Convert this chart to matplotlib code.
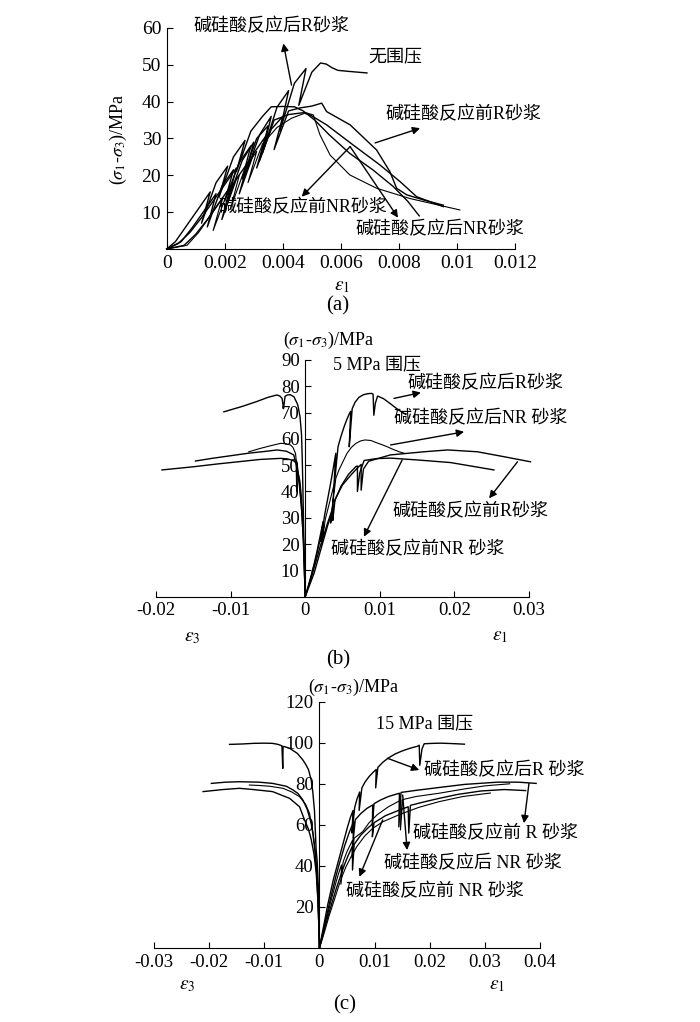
import matplotlib
matplotlib.use("Agg")
import matplotlib.pyplot as plt

plt.rcParams['font.family'] = ['Liberation Serif', 'Noto Sans CJK SC']
plt.rcParams['mathtext.fontset'] = 'stix'
plt.rcParams['axes.unicode_minus'] = False

W, H = 700, 1022
FONTS = ['Liberation Serif', 'Noto Sans CJK SC']

# ---------------- (a) unconfined ----------------
a_r_after_x = [0, 0.0004, 0.0008, 0.0012, 0.0016, 0.0020, 0.0024, 0.0021, 0.0026, 0.0030, 0.0027, 0.0032, 0.0036,
               0.0033, 0.0038, 0.0042, 0.0039, 0.0044, 0.0048, 0.00455, 0.0050, 0.0053, 0.0055, 0.0057, 0.0059,
               0.0063, 0.0069]
a_r_after_y = [0, 1.5, 4.5, 8.5, 13, 17.5, 22, 13, 24, 29, 20, 31, 36, 26, 38.5, 43, 32, 45, 49, 39, 48, 50.5, 50.2,
               49.2, 48.5, 48.2, 47.8]

a_r_before_x = [0, 0.0006, 0.0010, 0.0014, 0.0018, 0.0022, 0.0019, 0.0024, 0.0028, 0.0025, 0.0030, 0.0034, 0.0031,
                0.0036, 0.0040, 0.0037, 0.0042, 0.00459, 0.0050, 0.00534, 0.00551, 0.00632, 0.00723, 0.00769,
                0.00792, 0.00827, 0.0089, 0.00953]
a_r_before_y = [0, 1, 4, 8, 12.5, 17, 8, 19, 23.5, 15, 26, 30.5, 22, 32.5, 36, 27, 37.5, 38.3, 38.8, 39.6, 37.3,
                33.7, 26.9, 21.0, 16.5, 14.7, 13.2, 11.9]

a_nr_before_x = [0, 0.0005, 0.0009, 0.0013, 0.0017, 0.0014, 0.0019, 0.0023, 0.0020, 0.0025, 0.0029, 0.0026, 0.0031,
                 0.0035, 0.0032, 0.0037, 0.0042, 0.0047, 0.00494, 0.00551, 0.00643, 0.00735, 0.00804, 0.00861,
                 0.00953]
a_nr_before_y = [0, 2, 6, 10.5, 15, 6, 17, 21.5, 13, 23.5, 28, 19, 30, 33.5, 24, 35, 36.5, 37, 36.4, 33.7, 28.2,
                 22.8, 18.3, 14.2, 11.5]

a_nr_after_x = [0, 0.0007, 0.0011, 0.0015, 0.0019, 0.0016, 0.0021, 0.0025, 0.0022, 0.0027, 0.0031, 0.0028, 0.0033,
                0.0038, 0.0043, 0.0048, 0.00505, 0.00528, 0.00563, 0.00631, 0.00723, 0.00838, 0.0101]
a_nr_after_y = [0, 1, 4.5, 9, 13.5, 5, 15.5, 20, 11, 22, 26.5, 18, 28.5, 33, 35.5, 37, 36.4, 31.0, 25.5, 20.1,
                16.5, 13.7, 10.6]

a_extra_x = [0, 0.0003, 0.0007, 0.0011, 0.0015, 0.0012, 0.0017, 0.0021, 0.0018, 0.0023, 0.0027, 0.0024, 0.0029,
             0.0033, 0.0036, 0.0040, 0.0044, 0.0047, 0.0051, 0.0056, 0.0063, 0.0071, 0.0078, 0.0083, 0.0087]
a_extra_y = [0, 2, 6.5, 11, 15.5, 7, 18, 22.5, 14, 25, 29.5, 21, 32, 36, 38.6, 38.7, 38.6, 37.5, 35, 31, 26, 21.5,
             17, 13, 9]

a_xticks = [0, 0.002, 0.004, 0.006, 0.008, 0.01, 0.012]
a_xlabels = ['0', '0.002', '0.004', '0.006', '0.008', '0.01', '0.012']
a_yticks = [10, 20, 30, 40, 50, 60]

# ---------------- (b) 5 MPa ----------------
b_r_after_x = [0, 0.0004, 0.0008, 0.0012, 0.0016, 0.0020, 0.0024, 0.0021, 0.0026, 0.0030, 0.0034, 0.0038, 0.0041,
               0.0038, 0.0044, 0.0048, 0.0052, 0.0056, 0.0059, 0.0061, 0.0059, 0.0063, 0.0067, 0.0072, 0.0078,
               0.0084, 0.0089, 0.0091, 0.0092, 0.0094, 0.0097, 0.0105, 0.0115, 0.0125, 0.0135]
b_r_after_y = [0, 4, 8, 12.5, 17.5, 23, 28.5, 21, 31, 37, 43, 49.5, 54.5, 39.5, 57, 61, 64.5, 67.5, 69.5, 70.5, 57,
               71.5, 74, 75.8, 76.8, 77.2, 77.3, 77, 69, 73.5, 76.3, 75.3, 73.2, 71, 69.3]
b_r_after_x3 = [0, -0.0001, -0.0002, -0.0003, -0.0004, -0.0005, -0.0007, -0.0010, -0.0015, -0.0020, -0.0024,
                -0.0027, -0.0028, -0.0029, -0.0031, -0.0034, -0.0038, -0.0050, -0.0065, -0.0085, -0.0109]
b_r_after_y3 = [0, 10, 25, 40, 53, 62, 68.5, 73, 76, 76.8, 76.7, 76.2, 74, 71.5, 75.4, 76.3, 76.7, 75.8, 74.2,
                72.3, 70.3]

b_nr_after_x = [0, 0.0005, 0.0010, 0.0015, 0.0020, 0.0025, 0.0022, 0.0027, 0.0031, 0.0035, 0.0039, 0.0036, 0.0041,
                0.0045, 0.0050, 0.0056, 0.0062, 0.0068, 0.0074, 0.0080, 0.0088, 0.0095, 0.0103, 0.0110, 0.0118,
                0.0126, 0.0133]
b_nr_after_y = [0, 4.5, 10, 15.5, 21.5, 27, 20, 29.5, 34, 38.5, 43, 33, 45, 48, 51, 54.5, 56.8, 58.3, 59.2, 59.6,
                59.4, 58.6, 57.8, 57, 56, 55.1, 54.5]
b_nr_after_x3 = [0, -0.0001, -0.0003, -0.0005, -0.0007, -0.0009, -0.00107, -0.0013, -0.00165, -0.00197, -0.0026,
                 -0.00331, -0.0045, -0.0060, -0.00757]
b_nr_after_y3 = [0, 12, 28, 38, 44, 46.5, 48.2, 54.5, 56.8, 57.7, 58.2, 58.3, 57.5, 56.4, 55.1]

b_r_before_x = [0, 0.0012, 0.0022, 0.0030, 0.0037, 0.0037, 0.0040, 0.0050, 0.0062, 0.0072, 0.0075, 0.0075, 0.0078,
                0.0085, 0.0114, 0.0159, 0.0191, 0.0231, 0.0267, 0.0302]
b_r_before_y = [0, 9, 19, 27, 33, 29, 37, 42.5, 46.5, 49.5, 50.3, 40.5, 48.5, 51.5, 53.9, 55.1, 55.8, 55.1, 53.2,
                51.3]
b_r_before_x3 = [0, -0.0001, -0.0003, -0.0005, -0.0008, -0.0011, -0.00153, -0.0025, -0.00376, -0.0055, -0.0075,
                 -0.0100, -0.0125, -0.0147]
b_r_before_y3 = [0, 10, 24, 34, 43, 49, 53.9, 55.3, 55.8, 55.2, 54.6, 53.6, 52.6, 51.6]

b_nr_before_x = [0, 0.0010, 0.0020, 0.0030, 0.0036, 0.0034, 0.0039, 0.0048, 0.0058, 0.0068, 0.0070, 0.0070, 0.0073,
                 0.0079, 0.0095, 0.0114, 0.0150, 0.0195, 0.0253]
b_nr_before_y = [0, 9, 19, 28, 33, 28, 36, 42, 46.5, 49.5, 49.7, 40, 47, 51.8, 52.5, 52.7, 52, 51, 48.2]
b_nr_before_x3 = [0, -0.0001, -0.0002, -0.0004, -0.0006, -0.0008, -0.0010, -0.0011, -0.00112, -0.0012, -0.0016,
                  -0.0024, -0.0033, -0.0060, -0.0090, -0.0120, -0.0150, -0.0192]
b_nr_before_y3 = [0, 9, 20, 30, 38, 44, 48.5, 50.5, 40, 50.8, 51.8, 52.4, 52.6, 52.2, 51.3, 50.4, 49.4, 48.2]

b_xticks = [-0.02, -0.01, 0, 0.01, 0.02, 0.03]
b_xlabels = ['-0.02', '-0.01', '0', '0.01', '0.02', '0.03']
b_yticks = [10, 20, 30, 40, 50, 60, 70, 80, 90]

# ---------------- (c) 15 MPa ----------------
c_r_after_x = [0, 0.0005, 0.001, 0.0015, 0.002, 0.0025, 0.003, 0.0035, 0.004, 0.0045, 0.0051, 0.0056, 0.0061,
               0.0059, 0.0064, 0.0068, 0.0073, 0.0072, 0.0077, 0.0083, 0.009, 0.0097, 0.0103, 0.0102, 0.0106,
               0.0115, 0.0124, 0.0137, 0.015, 0.0164, 0.0178, 0.0181, 0.0182, 0.0186, 0.019, 0.0205, 0.022, 0.024,
               0.0263]
c_r_after_y = [0, 7, 14, 21, 27, 33, 38, 43, 48, 53, 59, 63.5, 67, 56, 68.5, 72.5, 76, 67, 78, 81, 83.5, 85.5, 87,
               78, 88, 90.5, 92.4, 94.5, 96, 97.3, 98.3, 98.8, 89, 97, 99.5, 99.7, 99.8, 99.6, 99.3]
c_r_after_x3 = [0, -0.0001, -0.0002, -0.0004, -0.0006, -0.0009, -0.0012, -0.0015, -0.0020, -0.0025, -0.0030,
                -0.0040, -0.0054, -0.0062, -0.0066, -0.00665, -0.0068, -0.0075, -0.0085, -0.0100, -0.0120,
                -0.0140, -0.0163]
c_r_after_y3 = [0, 15, 30, 42, 48, 67, 76, 82, 87, 89.5, 91.6, 94.8, 97.3, 98, 98.2, 87.5, 98.5, 99.2, 99.7, 99.8,
                99.7, 99.4, 99.2]

c_r_before_x = [0, 0.0005, 0.001, 0.0015, 0.002, 0.0025, 0.003, 0.0035, 0.004, 0.0046, 0.00543, 0.0062, 0.0061,
                0.0065, 0.0075, 0.0086, 0.00966, 0.0096, 0.0099, 0.011, 0.0125, 0.0145, 0.0144, 0.0148, 0.0175,
                0.0217, 0.0263, 0.0323, 0.036, 0.0393]
c_r_before_y = [0, 6, 12, 18, 24, 29.5, 35, 40, 44.5, 50, 56.5, 61.5, 52, 62.5, 65.5, 68, 69.7, 60, 70.3, 72, 73.8,
                75.4, 59, 75.8, 76.8, 78.2, 79.7, 80.8, 80.8, 80.2]
c_r_before_x3 = [0, -0.0001, -0.0003, -0.0005, -0.0008, -0.0012, -0.0015, -0.0022, -0.0030, -0.0039, -0.0048,
                 -0.0060, -0.0085, -0.0110, -0.0145, -0.0170, -0.0196]
c_r_before_y3 = [0, 10, 24, 36, 47, 56, 60.8, 67.5, 72.1, 75.3, 77, 78.8, 80.2, 80.8, 81.0, 80.8, 80.2]

c_nr_after_x = [0, 0.0005, 0.001, 0.0015, 0.002, 0.0025, 0.003, 0.0035, 0.004, 0.0039, 0.0043, 0.005, 0.006,
                0.0059, 0.0063, 0.00785, 0.0090, 0.0105, 0.0125, 0.0148, 0.0147, 0.0151, 0.0175, 0.0217, 0.0263,
                0.030, 0.0345]
c_nr_after_y = [0, 5.5, 11, 16.5, 22, 27, 32, 36.5, 40.5, 31, 42, 47, 52.5, 44, 53.5, 56.7, 61, 65, 68.8, 72.1,
                57.5, 72.3, 73.8, 75.4, 77.5, 79, 80]
c_nr_after_x3 = [0, -0.0001, -0.0003, -0.0006, -0.0010, -0.0014, -0.0018, -0.0025, -0.0036, -0.0050, -0.0066,
                 -0.0090, -0.0110, -0.0127]
c_nr_after_y3 = [0, 12, 28, 42, 53, 60, 65.6, 70, 73.7, 76, 77.8, 78.8, 79.2, 79.4]

c_nr_before_x = [0, 0.0005, 0.001, 0.0015, 0.002, 0.0025, 0.003, 0.0035, 0.004, 0.0046, 0.0052, 0.0058, 0.006,
                 0.006, 0.0063, 0.0075, 0.0088, 0.00966, 0.0096, 0.0099, 0.012, 0.0145, 0.0161, 0.0162, 0.0165,
                 0.019, 0.0217, 0.025, 0.0293, 0.0335, 0.0374]
c_nr_before_y = [0, 5, 10, 15, 19.5, 24, 28.5, 32.5, 36.5, 41, 45, 48.5, 49.5, 38, 50.5, 55, 58.5, 60.5, 54.2, 61,
                 64.5, 67.2, 68.8, 56, 69.5, 71.2, 72.9, 74.8, 76.5, 77.2, 76.7]
c_nr_before_x3 = [0, -0.0001, -0.0003, -0.0006, -0.0010, -0.0015, -0.0020, -0.0027, -0.0036, -0.0054, -0.0085,
                  -0.0120, -0.0145, -0.0175, -0.0211]
c_nr_before_y3 = [0, 11, 25, 37, 46, 53, 58, 62.4, 68.8, 72.9, 76.2, 77.2, 77.8, 77.2, 76.2]

c_extra_x = [0, 0.0006, 0.0012, 0.0018, 0.0024, 0.003, 0.0036, 0.0042, 0.0048, 0.00574, 0.0068, 0.0082, 0.00966,
             0.0115, 0.0145, 0.018, 0.0217, 0.026, 0.031]
c_extra_y = [0, 5, 10.5, 16, 21, 26, 31, 35.5, 39.5, 44.5, 49.5, 54.5, 58.3, 61.5, 65, 68.5, 71.3, 73.8, 75.5]

c_xticks = [-0.03, -0.02, -0.01, 0, 0.01, 0.02, 0.03, 0.04]
c_xlabels = ['-0.03', '-0.02', '-0.01', '0', '0.01', '0.02', '0.03', '0.04']
c_yticks = [20, 40, 60, 80, 100, 120]

YLABEL = r'($\sigma_1$-$\sigma_3$)/MPa'


def rect(left, top, right, bottom):
    # pixel box -> figure fraction
    return [left / W, 1 - bottom / H, (right - left) / W, (bottom - top) / H]


def fig_text(fig, x, y, s, size, **kw):
    fig.text(x / W, 1 - y / H, s, fontsize=size, ha='center', va='center', family=FONTS, **kw)


def style_axes(ax, xticks, xlabels, yticks, xlim, ylim, size):
    ax.set_xlim(*xlim)
    ax.set_ylim(*ylim)
    ax.spines['top'].set_visible(False)
    ax.spines['right'].set_visible(False)
    ax.spines['left'].set_position(('data', 0))
    ax.set_xticks(xticks)
    ax.set_xticklabels(xlabels)
    ax.set_yticks(yticks)
    ax.tick_params(direction='in', length=4, width=0.8, labelsize=size, pad=4)
    ax.patch.set_alpha(0)


def curve(ax, x, y, lw=1.0):
    ax.plot(x, y, color='k', lw=lw, clip_on=False)


def label(ax, x, y, s, size=13):
    ax.text(x, y, s, fontsize=size, ha='left', va='center', family=FONTS, clip_on=False)


def arrow(ax, tail, head):
    ax.annotate('', xy=head, xytext=tail,
                arrowprops=dict(arrowstyle='-|>', color='k', lw=1.0, mutation_scale=11,
                                shrinkA=0, shrinkB=0), annotation_clip=False)


fig = plt.figure(figsize=(W / 100, H / 100), dpi=100)

# (a)
ax = fig.add_axes(rect(166.7, 28, 515, 249))
style_axes(ax, a_xticks, a_xlabels, a_yticks, (0, 0.012), (0, 60), 14)
curve(ax, a_r_after_x, a_r_after_y)
curve(ax, a_r_before_x, a_r_before_y)
curve(ax, a_nr_before_x, a_nr_before_y)
curve(ax, a_nr_after_x, a_nr_after_y, lw=0.8)
curve(ax, a_extra_x, a_extra_y)
label(ax, 0.00091, 60.3, '碱硅酸反应后R砂浆')
label(ax, 0.00694, 52.1, '无围压')
label(ax, 0.00755, 36.4, '碱硅酸反应前R砂浆')
label(ax, 0.00177, 11.4, '碱硅酸反应前NR砂浆')
label(ax, 0.00649, 5.2, '碱硅酸反应后NR砂浆')
arrow(ax, (0.0043, 44.5), (0.00402, 55.8))
arrow(ax, (0.00718, 28.8), (0.00873, 32.8))
arrow(ax, (0.00632, 27.8), (0.00465, 14.2))
arrow(ax, (0.00632, 27.8), (0.00797, 8.5))
fig_text(fig, 118, 140, YLABEL, 13, rotation=90)
fig_text(fig, 342, 287, r'$\varepsilon_1$', 14)
fig_text(fig, 338, 306, '(a)', 15)

# (b)
ax = fig.add_axes(rect(156, 360, 529, 596.7))
style_axes(ax, b_xticks, b_xlabels, b_yticks, (-0.02, 0.03), (0, 90), 13.5)
curve(ax, b_r_after_x, b_r_after_y)
curve(ax, b_r_after_x3, b_r_after_y3)
curve(ax, b_nr_after_x, b_nr_after_y, lw=0.8)
curve(ax, b_nr_after_x3, b_nr_after_y3, lw=0.8)
curve(ax, b_r_before_x, b_r_before_y)
curve(ax, b_r_before_x3, b_r_before_y3)
curve(ax, b_nr_before_x, b_nr_before_y)
curve(ax, b_nr_before_x3, b_nr_before_y3)
label(ax, 0.00376, 88.1, '5 MPa 围压')
label(ax, 0.0137, 81.1, '碱硅酸反应后R砂浆')
label(ax, 0.0119, 67.8, '碱硅酸反应后NR 砂浆')
label(ax, 0.01168, 32.3, '碱硅酸反应前R砂浆')
label(ax, 0.0034, 17.8, '碱硅酸反应前NR 砂浆')
arrow(ax, (0.0119, 75.4), (0.0155, 77.6))
arrow(ax, (0.01145, 57.7), (0.0213, 62.7))
arrow(ax, (0.02846, 51.3), (0.02465, 37.4))
arrow(ax, (0.0130, 52.0), (0.00787, 22.8))
fig_text(fig, 328, 340, YLABEL, 13)
fig_text(fig, 192, 637, r'$\varepsilon_3$', 14)
fig_text(fig, 500, 636, r'$\varepsilon_1$', 14)
fig_text(fig, 338, 660, '(b)', 15)

# (c)
ax = fig.add_axes(rect(154, 701.7, 540, 948))
style_axes(ax, c_xticks, c_xlabels, c_yticks, (-0.03, 0.04), (0, 120), 13.5)
curve(ax, c_r_after_x, c_r_after_y)
curve(ax, c_r_after_x3, c_r_after_y3)
curve(ax, c_r_before_x, c_r_before_y)
curve(ax, c_r_before_x3, c_r_before_y3)
curve(ax, c_nr_after_x, c_nr_after_y, lw=0.8)
curve(ax, c_nr_after_x3, c_nr_after_y3, lw=0.8)
curve(ax, c_nr_before_x, c_nr_before_y)
curve(ax, c_nr_before_x3, c_nr_before_y3)
curve(ax, c_extra_x, c_extra_y, lw=0.8)
label(ax, 0.01027, 109.5, '15 MPa 围压')
label(ax, 0.0190, 86.7, '碱硅酸反应后R 砂浆')
label(ax, 0.0169, 55.9, '碱硅酸反应前 R 砂浆')
label(ax, 0.01178, 41.3, '碱硅酸反应后 NR 砂浆')
label(ax, 0.00483, 27.4, '碱硅酸反应前 NR 砂浆')
arrow(ax, (0.01237, 92.4), (0.0181, 86.7))
arrow(ax, (0.0380, 80.2), (0.0371, 60.8))
arrow(ax, (0.0151, 74.5), (0.0159, 47.7))
arrow(ax, (0.01147, 62.4), (0.00725, 34.7))
fig_text(fig, 353, 687, YLABEL, 13)
fig_text(fig, 187, 985, r'$\varepsilon_3$', 14)
fig_text(fig, 497, 985, r'$\varepsilon_1$', 14)
fig_text(fig, 345, 1005, '(c)', 15)

fig.savefig('out.png', dpi=100)
